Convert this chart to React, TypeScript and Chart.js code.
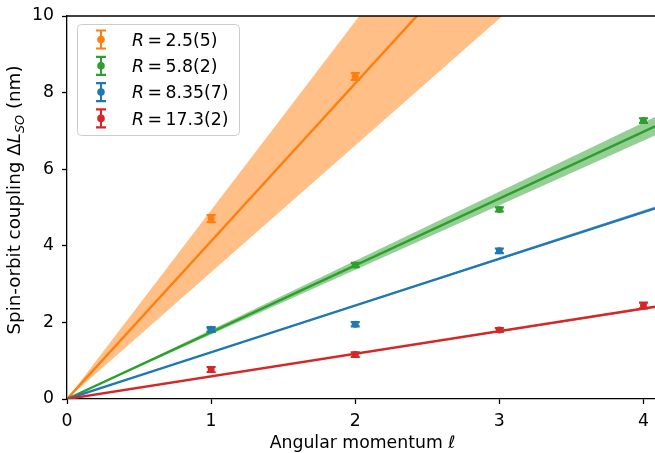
import React, { useEffect, useRef } from "react";
import { Chart, registerables } from "chart.js";

Chart.register(...registerables);

// ---- Data ----
const legendValues = ["2.5(5)", "5.8(2)", "8.35(7)", "17.3(2)"];
const colors = ["#ff7f0e", "#2ca02c", "#1f77b4", "#d62728"];
const bandColors = [
  "rgba(255,127,14,0.5)",
  "rgba(44,160,44,0.5)",
  "rgba(31,119,180,0.5)",
  "rgba(214,39,40,0.5)",
];

const orangeX = [1, 2];
const orangeY = [4.71, 8.42];
const orangeErr = [0.09, 0.09];

const greenX = [1, 2, 3, 4];
const greenY = [1.8, 3.5, 4.95, 7.27];
const greenErr = [0.05, 0.055, 0.055, 0.06];

const blueX = [1, 2, 3];
const blueY = [1.82, 1.95, 3.87];
const blueErr = [0.06, 0.055, 0.06];

const redX = [1, 2, 3, 4];
const redY = [0.77, 1.16, 1.8, 2.44];
const redErr = [0.065, 0.06, 0.05, 0.075];

const fitSlopes = [4.12, 1.745, 1.22, 0.59];
const bandLow = [3.31, 1.687, 1.211, 0.583];
const bandHigh = [4.93, 1.805, 1.232, 0.597];

const xTicks = [0, 1, 2, 3, 4];
const yTicks = [0, 2, 4, 6, 8, 10];
const xMin = 0;
const xMax = 4.08;
const yMin = 0;
const yMax = 10;

const seriesX = [orangeX, greenX, blueX, redX];
const seriesY = [orangeY, greenY, blueY, redY];
const seriesErr = [orangeErr, greenErr, blueErr, redErr];

const FONT = "'DejaVu Sans'";
const FS = 17.3;
const FS_Y = 18.3;

function lineThrough(slope: number) {
  return [
    { x: xMin, y: slope * xMin },
    { x: xMax, y: slope * xMax },
  ];
}

const overlay = {
  id: "overlay",
  beforeDatasetDraw(chart: any, args: any) {
    const ds = chart.data.datasets[args.index];
    if (!ds.errs) return;
    const ctx = chart.ctx;
    const xs = chart.scales.x;
    const ys = chart.scales.y;
    ctx.save();
    ctx.strokeStyle = ds.backgroundColor;
    ds.data.forEach((p: any, j: number) => {
      const e = ds.errs[j];
      const px = xs.getPixelForValue(p.x);
      const y1 = ys.getPixelForValue(p.y + e);
      const y2 = ys.getPixelForValue(p.y - e);
      ctx.lineWidth = 2;
      ctx.beginPath();
      ctx.moveTo(px, y1);
      ctx.lineTo(px, y2);
      ctx.stroke();
      ctx.lineWidth = 2.2;
      ctx.beginPath();
      ctx.moveTo(px - 4.5, y1);
      ctx.lineTo(px + 4.5, y1);
      ctx.moveTo(px - 4.5, y2);
      ctx.lineTo(px + 4.5, y2);
      ctx.stroke();
    });
    ctx.restore();
  },
  afterDraw(chart: any) {
    const ctx = chart.ctx;
    const a = chart.chartArea;
    ctx.save();
    // top spine
    ctx.strokeStyle = "#000";
    ctx.lineWidth = 1.3;
    ctx.beginPath();
    ctx.moveTo(a.left - 0.65, a.top);
    ctx.lineTo(a.right, a.top);
    ctx.stroke();

    // legend
    const lx = 77.5, ly = 24.5, lw = 162, lh = 111;
    ctx.beginPath();
    (ctx as any).roundRect(lx, ly, lw, lh, 4);
    ctx.fillStyle = "rgba(255,255,255,0.8)";
    ctx.fill();
    ctx.strokeStyle = "#cccccc";
    ctx.lineWidth = 1;
    ctx.stroke();
    const rowStep = 26.3;
    legendValues.forEach((v, i) => {
      const cy = 39.5 + i * rowStep;
      const mx = 101;
      ctx.strokeStyle = colors[i];
      ctx.fillStyle = colors[i];
      ctx.lineWidth = 2;
      ctx.beginPath();
      ctx.moveTo(mx, cy - 9);
      ctx.lineTo(mx, cy + 9);
      ctx.stroke();
      ctx.lineWidth = 2.2;
      ctx.beginPath();
      ctx.moveTo(mx - 5, cy - 9);
      ctx.lineTo(mx + 5, cy - 9);
      ctx.moveTo(mx - 5, cy + 9);
      ctx.lineTo(mx + 5, cy + 9);
      ctx.stroke();
      ctx.beginPath();
      ctx.arc(mx, cy, 3.8, 0, Math.PI * 2);
      ctx.fill();

      ctx.fillStyle = "#000";
      ctx.textBaseline = "alphabetic";
      ctx.textAlign = "left";
      let x = 132;
      const by = cy + 6.3;
      ctx.font = `italic ${FS}px ${FONT}`;
      ctx.fillText("R", x, by);
      x += ctx.measureText("R").width + 3.5;
      ctx.font = `${FS}px ${FONT}`;
      ctx.fillText("=", x, by);
      x += ctx.measureText("=").width + 3.5;
      ctx.fillText(v, x, by);
    });

    // x title
    ctx.fillStyle = "#000";
    ctx.textBaseline = "alphabetic";
    ctx.textAlign = "left";
    ctx.font = `${FS}px ${FONT}`;
    const t1 = "Angular momentum ";
    const w1 = ctx.measureText(t1).width;
    ctx.font = `italic ${FS}px ${FONT}`;
    const w2 = ctx.measureText("ℓ").width;
    const cx = 362.5;
    let sx = cx - (w1 + w2) / 2;
    ctx.font = `${FS}px ${FONT}`;
    ctx.fillText(t1, sx, 448);
    ctx.font = `italic ${FS}px ${FONT}`;
    ctx.fillText("ℓ", sx + w1, 448);

    // y title with subscript
    const parts = [
      { t: "Spin-orbit coupling Δ", f: `${FS_Y}px ${FONT}`, dy: 0 },
      { t: "L", f: `italic ${FS_Y}px ${FONT}`, dy: 0 },
      { t: "SO", f: `italic ${FS_Y * 0.7}px ${FONT}`, dy: 4 },
      { t: " (nm)", f: `${FS_Y}px ${FONT}`, dy: 0 },
    ];
    let total = 0;
    const widths = parts.map((p) => {
      ctx.font = p.f;
      const w = ctx.measureText(p.t).width;
      total += w;
      return w;
    });
    ctx.translate(20, 200);
    ctx.rotate(-Math.PI / 2);
    let px = -total / 2;
    parts.forEach((p, i) => {
      ctx.font = p.f;
      ctx.fillText(p.t, px, p.dy);
      px += widths[i];
    });
    ctx.restore();
  },
};

export default function App() {
  const ref = useRef<HTMLCanvasElement | null>(null);
  useEffect(() => {
    if (!ref.current) return;
    Chart.defaults.font.family = FONT;
    Chart.defaults.font.size = FS;
    Chart.defaults.color = "#000";

    const datasets: any[] = [];
    for (let i = 0; i < 4; i++) {
      datasets.push({
        label: "bandHigh" + i,
        data: lineThrough(bandHigh[i]),
        showLine: true,
        borderWidth: 0,
        borderColor: "transparent",
        pointRadius: 0,
        backgroundColor: bandColors[i],
        fill: "+1",
        order: 40,
      });
      datasets.push({
        label: "bandLow" + i,
        data: lineThrough(bandLow[i]),
        showLine: true,
        borderWidth: 0,
        borderColor: "transparent",
        pointRadius: 0,
        fill: false,
        order: 40,
      });
    }
    for (let i = 0; i < 4; i++) {
      datasets.push({
        label: "fit" + i,
        data: lineThrough(fitSlopes[i]),
        showLine: true,
        borderWidth: 2.4,
        borderColor: colors[i],
        pointRadius: 0,
        fill: false,
        order: 20 - i * 2,
      });
      datasets.push({
        label: "pts" + i,
        data: seriesX[i].map((x, j) => ({ x, y: seriesY[i][j] })),
        errs: seriesErr[i],
        showLine: false,
        pointRadius: 3.5,
        pointBorderWidth: 0,
        backgroundColor: colors[i],
        borderColor: colors[i],
        order: 19 - i * 2,
      });
    }

    const chart = new Chart(ref.current, {
      type: "scatter",
      data: { datasets },
      options: {
        animation: false,
        responsive: false,
        devicePixelRatio: 1,
        layout: { autoPadding: false, padding: { left: 0, right: 0, top: 16, bottom: 0 } },
        plugins: {
          legend: { display: false },
          tooltip: { enabled: false },
        },
        scales: {
          x: {
            type: "linear",
            min: xMin,
            max: xMax,
            afterFit: (s: any) => {
              s.height = 54;
              s.paddingLeft = 0;
              s.paddingRight = 0;
            },
            afterBuildTicks: (s: any) => {
              s.ticks = xTicks.map((v) => ({ value: v }));
            },
            ticks: { padding: 7, includeBounds: false, color: "#000", font: { size: FS, family: FONT } },
            grid: {
              display: true,
              drawOnChartArea: false,
              drawTicks: true,
              tickLength: 5,
              tickWidth: 1.3,
              tickColor: "#000",
            },
            border: { display: true, color: "#000", width: 1.3 },
          },
          y: {
            type: "linear",
            min: yMin,
            max: yMax,
            afterFit: (s: any) => {
              s.width = 67;
              s.paddingTop = 0;
              s.paddingBottom = 0;
            },
            afterBuildTicks: (s: any) => {
              s.ticks = yTicks.map((v) => ({ value: v }));
            },
            ticks: { padding: 8, includeBounds: false, color: "#000", font: { size: FS, family: FONT } },
            grid: {
              display: true,
              drawOnChartArea: false,
              drawTicks: true,
              tickLength: 5,
              tickWidth: 1.3,
              tickColor: "#000",
            },
            border: { display: true, color: "#000", width: 1.3 },
          },
        },
      } as any,
      plugins: [overlay as any],
    });
    return () => chart.destroy();
  }, []);

  return (
    <div style={{ position: "fixed", left: 0, top: 0, width: 655, height: 453, background: "#fff" }}>
      <canvas ref={ref} width={655} height={453} />
    </div>
  );
}
